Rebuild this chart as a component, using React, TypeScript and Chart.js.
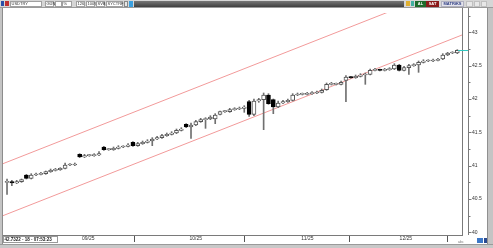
import React, { useEffect, useRef } from "react";
import { Chart, registerables } from "chart.js";

Chart.register(...registerables);

// ---- data (USD/TRY daily candles) ----
const opens = [
  40.75, 40.76, 40.74, 40.76, 40.86, 40.81, 40.86, 40.87, 40.88, 40.91,
  40.93, 40.94, 40.96, 41.01, 41.01, 41.17, 41.13, 41.15, 41.15, 41.16,
  41.28, 41.24, 41.24, 41.26, 41.28, 41.29, 41.35, 41.30, 41.33, 41.35,
  41.37, 41.40, 41.42, 41.45, 41.47, 41.49, 41.53, 41.62, 41.58, 41.61,
  41.66, 41.69, 41.70, 41.70, 41.77, 41.81, 41.81, 41.84, 41.85, 41.86,
  41.96, 41.77, 41.97, 41.99, 42.06, 41.99, 41.88, 41.94, 41.96, 41.98,
  42.06, 42.07, 42.07, 42.08, 42.09, 42.10, 42.14, 42.22, 42.22, 42.22,
  42.28, 42.33, 42.32, 42.34, 42.36, 42.37, 42.43, 42.44, 42.43, 42.44,
  42.45, 42.51, 42.43, 42.47, 42.50, 42.51, 42.55, 42.57, 42.57, 42.58,
  42.60, 42.66, 42.69, 42.69,
];
const highs = [
  40.80, 40.78, 40.78, 40.80, 40.87, 40.88, 40.89, 40.90, 40.92, 40.95,
  40.96, 40.97, 41.04, 41.03, 41.04, 41.18, 41.17, 41.17, 41.18, 41.21,
  41.29, 41.26, 41.28, 41.30, 41.30, 41.33, 41.36, 41.35, 41.37, 41.39,
  41.42, 41.44, 41.47, 41.49, 41.51, 41.55, 41.57, 41.63, 41.64, 41.68,
  41.71, 41.72, 41.75, 41.78, 41.82, 41.83, 41.86, 41.87, 41.88, 41.90,
  41.98, 42.00, 42.01, 42.09, 42.08, 42.00, 41.97, 41.98, 42.00, 42.08,
  42.09, 42.09, 42.10, 42.11, 42.12, 42.15, 42.24, 42.25, 42.24, 42.27,
  42.35, 42.34, 42.36, 42.38, 42.39, 42.45, 42.46, 42.45, 42.46, 42.47,
  42.53, 42.52, 42.49, 42.52, 42.53, 42.57, 42.59, 42.59, 42.60, 42.61,
  42.68, 42.70, 42.71, 42.74,
];
const lows = [
  40.57, 40.70, 40.73, 40.75, 40.80, 40.80, 40.85, 40.86, 40.87, 40.90,
  40.92, 40.93, 40.95, 41.00, 41.00, 41.12, 41.12, 41.14, 41.14, 41.15,
  41.23, 41.23, 41.23, 41.25, 41.27, 41.28, 41.29, 41.29, 41.32, 41.34,
  41.30, 41.39, 41.41, 41.44, 41.46, 41.48, 41.52, 41.57, 41.41, 41.60,
  41.65, 41.56, 41.69, 41.63, 41.76, 41.80, 41.80, 41.83, 41.84, 41.80,
  41.74, 41.75, 41.95, 41.54, 41.92, 41.78, 41.87, 41.93, 41.95, 41.97,
  42.05, 42.06, 42.06, 42.07, 42.08, 42.09, 42.13, 42.21, 42.21, 42.21,
  41.96, 42.31, 42.31, 42.33, 42.22, 42.36, 42.42, 42.42, 42.42, 42.43,
  42.44, 42.42, 42.42, 42.37, 42.49, 42.40, 42.54, 42.56, 42.56, 42.57,
  42.59, 42.65, 42.68, 42.68,
];
const closes = [
  40.76, 40.74, 40.76, 40.79, 40.81, 40.86, 40.87, 40.88, 40.91, 40.93,
  40.94, 40.96, 41.01, 41.01, 41.02, 41.13, 41.15, 41.15, 41.16, 41.18,
  41.24, 41.24, 41.26, 41.28, 41.29, 41.31, 41.30, 41.33, 41.35, 41.37,
  41.40, 41.42, 41.45, 41.47, 41.49, 41.53, 41.55, 41.58, 41.61, 41.66,
  41.69, 41.70, 41.73, 41.76, 41.81, 41.81, 41.84, 41.85, 41.86, 41.88,
  41.77, 41.97, 41.99, 42.06, 41.93, 41.88, 41.94, 41.96, 41.98, 42.06,
  42.07, 42.07, 42.08, 42.09, 42.10, 42.13, 42.22, 42.22, 42.22, 42.25,
  42.33, 42.32, 42.34, 42.36, 42.37, 42.43, 42.44, 42.43, 42.44, 42.45,
  42.51, 42.43, 42.47, 42.50, 42.51, 42.55, 42.57, 42.57, 42.58, 42.59,
  42.66, 42.69, 42.69, 42.73,
];

// x positions (bar index) of month starts and their labels
const monthTickIndex = [15.2, 37.4, 60.5, 80.8];
const monthTickLabels = ["09/25", "10/25", "11/25", "12/25"];

// regression channel endpoints (x in bar index units)
const channelX = [-0.83, 93.97];
const channelUpper = [41.03, 43.74];
const channelLower = [40.25, 42.96];

// price axis
const yTickValues = [
  40, 40.25, 40.5, 40.75, 41, 41.25, 41.5, 41.75, 42, 42.25, 42.5, 42.75, 43, 43.25,
];
const yMin = 39.96;
const yMax = 43.29;
const xMin = -0.83;
const xMax = 93.97;

const lastPrice = 42.7322;
const statusText = "42.7322 - 18 - 07:53:23";
const toolbarFields = ["USDTRY", "GÜN", "", "%", "126", "100%", "SVB", "SYCTRF"];

const FONT = "'Liberation Sans', Arial, sans-serif";

function box(ctx: CanvasRenderingContext2D, x: number, y: number, w: number, h: number, fill: string, stroke?: string) {
  ctx.fillStyle = fill;
  ctx.fillRect(x, y, w, h);
  if (stroke) {
    ctx.strokeStyle = stroke;
    ctx.lineWidth = 1;
    ctx.strokeRect(x + 0.5, y + 0.5, w - 1, h - 1);
  }
}

function txt(ctx: CanvasRenderingContext2D, s: string, x: number, y: number, size: number, color: string, bold = false, align: CanvasTextAlign = "left") {
  ctx.font = `${bold ? "bold " : ""}${size}px ${FONT}`;
  ctx.fillStyle = color;
  ctx.textAlign = align;
  ctx.textBaseline = "middle";
  ctx.fillText(s, x, y);
}

const chromePlugin = {
  id: "chrome",
  beforeDraw(chart: any) {
    const { ctx, width, height } = chart;
    ctx.save();
    ctx.fillStyle = "#ffffff";
    ctx.fillRect(0, 0, width, height);
    ctx.restore();
  },
  afterDraw(chart: any) {
    const { ctx, width, height, chartArea: a } = chart;
    ctx.save();
    // top toolbar
    box(ctx, 0, 0, width, 8, "#d6d6d6");
    ctx.fillStyle = "#9a9a9a";
    ctx.fillRect(0, 7, width, 1);
    const g = ctx.createLinearGradient(0, 1, 0, 7);
    g.addColorStop(0, "#777777");
    g.addColorStop(1, "#3f3f3f");
    ctx.fillStyle = g;
    ctx.fillRect(134, 1, 270, 6);
    // left icons
    box(ctx, 1, 1, 3, 5, "#2b4fa8");
    box(ctx, 5, 1, 4, 5, "#c03030");
    // fields
    const fx = [10, 45, 55, 62, 76, 86, 96, 106];
    const fw = [32, 9, 7, 10, 9, 9, 9, 17];
    toolbarFields.forEach((f, i) => {
      box(ctx, fx[i], 1, fw[i], 6, "#ffffff", "#a0a0a0");
      if (f) txt(ctx, f, fx[i] + 1.5, 4.2, 4, "#333333");
    });
    box(ctx, 124, 1, 4, 6, "#e8e8e8", "#888888");
    box(ctx, 129, 1, 4, 6, "#3aa0e0");
    // right side of toolbar
    box(ctx, 406, 1, 4, 5, "#e0b030");
    box(ctx, 411, 1, 3, 5, "#40b0a0");
    box(ctx, 415, 1, 11, 6, "#1d6b2a");
    txt(ctx, "AL", 420.5, 4.2, 4, "#ffffff", true, "center");
    box(ctx, 426, 1, 13, 6, "#8a1a1a");
    txt(ctx, "SAT", 432.5, 4.2, 4, "#ffffff", true, "center");
    box(ctx, 441, 1, 23, 6, "#e4e4ec", "#b0b0c0");
    txt(ctx, "MATRİKS", 452.5, 4.2, 4, "#2a3a80", true, "center");
    box(ctx, 466, 1, 7, 6, "#e8e8e8", "#c0c0c0");
    box(ctx, 474, 1, 6, 6, "#e8e8e8", "#c0c0c0");
    box(ctx, 481, 1, 6, 6, "#e8e8e8", "#c0c0c0");

    // left strip
    box(ctx, 0, 8, 3, height - 8, "#c4c4c4");
    ctx.fillStyle = "#8c8c8c";
    ctx.fillRect(2, 8, 1, height - 12);
    // right strip
    box(ctx, width - 6, 8, 6, height - 8, "#c4c4c4");
    ctx.fillStyle = "#909090";
    ctx.fillRect(width - 6, 8, 1, height - 12);

    // chart area frame + axis line
    ctx.strokeStyle = "#7a7a7a";
    ctx.lineWidth = 1;
    ctx.beginPath();
    ctx.moveTo(Math.round(a.right) + 0.5, 8);
    ctx.lineTo(Math.round(a.right) + 0.5, a.bottom);
    const axX = Math.round(a.right) + 6.5;
    ctx.moveTo(axX, 8);
    ctx.lineTo(axX, a.bottom);
    ctx.stroke();
    // price-axis tick marks
    const ys = chart.scales.y;
    ys.ticks.forEach((t: any) => {
      const y = Math.round(ys.getPixelForValue(t.value)) + 0.5;
      const major = t.label !== "";
      ctx.beginPath();
      ctx.moveTo(axX, y);
      ctx.lineTo(axX + (major ? 3 : 2), y);
      ctx.stroke();
    });
    // last price marker
    const ly = Math.round(ys.getPixelForValue(lastPrice)) + 0.5;
    ctx.strokeStyle = "#30c8c0";
    ctx.beginPath();
    ctx.moveTo(a.right - 4, ly);
    ctx.lineTo(a.right + 6, ly);
    ctx.stroke();

    // bottom strip
    box(ctx, 0, height - 4, width, 4, "#c8c8c8");
    ctx.fillStyle = "#9a9a9a";
    ctx.fillRect(0, height - 4, width, 1);
    // status box
    box(ctx, 3, a.bottom + 1, 55, 7, "#ffffff", "#9a9a9a");
    txt(ctx, statusText, 4.5, a.bottom + 4.7, 4.5, "#222222", true);
    // bottom-right icons
    txt(ctx, "abc", 458, height - 6, 3.5, "#777777");
    box(ctx, 477, a.bottom + 3, 6, 5, "#3c78c8");
    box(ctx, 484, a.bottom + 3, 3, 5, "#2a4a90");
    ctx.restore();
  },
};

export default function App() {
  const ref = useRef<HTMLCanvasElement | null>(null);

  useEffect(() => {
    if (!ref.current) return;
    const bodies = opens.map((o, i) => ({ x: i, y: [o, closes[i]] }));
    const wicks = lows.map((l, i) => ({ x: i, y: [l, highs[i]] }));
    const upper = channelX.map((x, i) => ({ x, y: channelUpper[i] }));
    const lower = channelX.map((x, i) => ({ x, y: channelLower[i] }));

    const chart = new Chart(ref.current, {
      type: "bar",
      data: {
        datasets: [
          {
            type: "bar",
            label: "body",
            data: bodies as any,
            backgroundColor: opens.map((o, i) => (closes[i] >= o ? "#ffffff" : "#000000")),
            borderColor: opens.map((o, i) => (closes[i] >= o ? "#555555" : "#000000")),
            borderWidth: 1,
            borderSkipped: false,
            barThickness: 4,
            minBarLength: 1,
            grouped: false,
            order: 1,
          } as any,
          {
            type: "bar",
            label: "wick",
            data: wicks as any,
            backgroundColor: "#707070",
            borderWidth: 0,
            barThickness: 1,
            grouped: false,
            order: 2,
          } as any,
          {
            type: "line",
            label: "upper",
            data: upper as any,
            borderColor: "#f29a9a",
            borderWidth: 1,
            pointRadius: 0,
            order: 3,
          } as any,
          {
            type: "line",
            label: "lower",
            data: lower as any,
            borderColor: "#f29a9a",
            borderWidth: 1,
            pointRadius: 0,
            order: 3,
          } as any,
        ],
      },
      options: {
        animation: false,
        responsive: false,
        events: [],
        layout: { padding: { left: 3, top: 8, right: 0, bottom: 0 } },
        plugins: { legend: { display: false }, tooltip: { enabled: false }, title: { display: false } },
        scales: {
          x: {
            type: "linear",
            min: xMin,
            max: xMax,
            offset: false,
            afterBuildTicks: (s: any) => {
              s.ticks = monthTickIndex.map((v) => ({ value: v }));
            },
            afterFit: (s: any) => {
              s.height = 12;
            },
            grid: {
              display: true,
              drawOnChartArea: false,
              drawTicks: true,
              tickLength: 7,
              tickColor: "#555555",
              color: "#555555",
            },
            border: { display: true, color: "#7a7a7a" },
            ticks: {
              autoSkip: false,
              maxRotation: 0,
              align: "start",
              padding: -6,
              color: "#333333",
              font: { size: 5, family: FONT },
              callback: (_v: any, i: number) => " " + monthTickLabels[i],
            },
          } as any,
          y: {
            type: "linear",
            position: "right",
            min: yMin,
            max: yMax,
            afterBuildTicks: (s: any) => {
              s.ticks = yTickValues.map((v) => ({ value: v }));
            },
            afterFit: (s: any) => {
              s.width = 31;
            },
            grid: { display: false, drawTicks: false },
            border: { display: false },
            ticks: {
              padding: 10,
              color: "#333333",
              font: { size: 5, family: FONT },
              callback: (v: any) => (Math.abs(v * 2 - Math.round(v * 2)) < 1e-9 ? String(v) : ""),
            },
          } as any,
        },
      },
      plugins: [chromePlugin],
    });
    return () => chart.destroy();
  }, []);

  return (
    <div style={{ position: "absolute", left: 0, top: 0, width: 493, height: 248 }}>
      <canvas ref={ref} width={493} height={248} style={{ display: "block" }} />
    </div>
  );
}
